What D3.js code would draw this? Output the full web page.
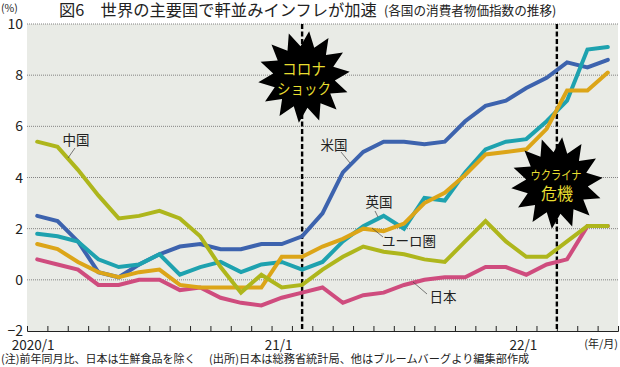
<!DOCTYPE html>
<html>
<head>
<meta charset="utf-8">
<script src="https://cdn.jsdelivr.net/npm/d3@7"></script>
<style>
  html, body { margin: 0; padding: 0; background: #fff; }
  text { font-family: "Noto Sans CJK JP", "Noto Sans", sans-serif; fill: #222; }
</style>
</head>
<body>
<div id="chart"></div>
<script>
// DATA
var months = 29;
var usa = [2.5,2.3,1.5,0.3,0.1,0.6,1.0,1.3,1.4,1.2,1.2,1.4,1.4,1.7,2.6,4.2,5.0,5.4,5.4,5.3,5.4,6.2,6.8,7.0,7.5,7.9,8.5,8.3,8.6];
var uk = [1.8,1.7,1.5,0.8,0.5,0.6,1.0,0.2,0.5,0.7,0.3,0.6,0.7,0.4,0.7,1.5,2.1,2.5,2.0,3.2,3.1,4.2,5.1,5.4,5.5,6.2,7.0,9.0,9.1];
var euro = [1.4,1.2,0.7,0.3,0.1,0.3,0.4,-0.2,-0.3,-0.3,-0.3,-0.3,0.9,0.9,1.3,1.6,2.0,1.9,2.2,3.0,3.4,4.1,4.9,5.0,5.1,5.9,7.4,7.4,8.1];
var china = [5.4,5.2,4.3,3.3,2.4,2.5,2.7,2.4,1.7,0.5,-0.5,0.2,-0.3,-0.2,0.4,0.9,1.3,1.1,1.0,0.8,0.7,1.5,2.3,1.5,0.9,0.9,1.5,2.1,2.1];
var japan = [0.8,0.6,0.4,-0.2,-0.2,0,0,-0.4,-0.3,-0.7,-0.9,-1.0,-0.7,-0.5,-0.3,-0.9,-0.6,-0.5,-0.2,0,0.1,0.1,0.5,0.5,0.2,0.6,0.8,2.1,2.1];
var yTicks = [-2,0,2,4,6,8,10];
var xLabels = [[0,"2020/1"],[12,"21/1"],[24,"22/1"]];

var width = 620, height = 367;
var plot = { left: 27, right: 618, top: 24, bottom: 331 };

var svg = d3.select("#chart").append("svg")
  .attr("width", width)
  .attr("height", height)
  .style("display", "block");

// month i sits in the middle of band i
var x = d3.scaleLinear().domain([-0.5, months - 0.5]).range([plot.left, plot.right]);
var y = d3.scaleLinear().domain([-2, 10]).range([plot.bottom, plot.top]);

svg.append("rect")
  .attr("x", plot.left)
  .attr("y", plot.top)
  .attr("width", plot.right - plot.left)
  .attr("height", plot.bottom - plot.top)
  .attr("fill", "#e9ebe6");

// grid
svg.selectAll(".grid")
  .data(yTicks.filter(function(d) { return d > -2; }))
  .enter().append("line")
  .attr("class", "grid")
  .attr("x1", plot.left)
  .attr("x2", plot.right)
  .attr("y1", function(d) { return y(d); })
  .attr("y2", function(d) { return y(d); })
  .attr("stroke", "#777")
  .attr("stroke-width", 0.9)
  .attr("stroke-dasharray", "1,1");

// y labels
svg.selectAll(".ylab")
  .data(yTicks)
  .enter().append("text")
  .attr("class", "ylab")
  .attr("x", 23)
  .attr("y", function(d) { return y(d) + 5; })
  .attr("text-anchor", "end")
  .style("font-size", "14px")
  .text(function(d) { return d < 0 ? "\u2212" + Math.abs(d) : d; });

svg.append("text").attr("x", 1).attr("y", 12).style("font-size", "10.5px").text("(%)");

// x axis
var xAxis = d3.axisBottom(x)
  .tickValues(d3.range(-0.5, months, 1))
  .tickSize(-5)
  .tickFormat("");
var axisG = svg.append("g")
  .attr("transform", "translate(0," + plot.bottom + ")")
  .call(xAxis);
axisG.selectAll("path, line").attr("stroke", "#222").attr("stroke-width", 1);

svg.selectAll(".xlab")
  .data(xLabels)
  .enter().append("text")
  .attr("class", "xlab")
  .attr("x", function(d) { return x(d[0]) - (d[0] === 0 ? 4 : 3); })
  .attr("y", 350)
  .attr("text-anchor", "middle")
  .style("font-size", "13.5px")
  .text(function(d) { return d[1]; });
svg.append("text").attr("x", 618).attr("y", 348).attr("text-anchor", "end")
  .style("font-size", "11px").text("(年/月)");

// event lines
var eventMonths = [13, 25.5];
svg.selectAll(".event")
  .data(eventMonths)
  .enter().append("line")
  .attr("class", "event")
  .attr("x1", function(d) { return x(d); })
  .attr("x2", function(d) { return x(d); })
  .attr("y1", plot.top)
  .attr("y2", plot.bottom)
  .attr("stroke", "#000")
  .attr("stroke-width", 2.4)
  .attr("stroke-dasharray", "5,2.5");

// series
var line = d3.line()
  .x(function(d, i) { return x(i); })
  .y(function(d) { return y(d); });

var series = [
  { values: usa, color: "#3d63ae" },
  { values: uk, color: "#1ea2af" },
  { values: japan, color: "#cf4c7e" },
  { values: euro, color: "#dca518" },
  { values: china, color: "#aeb61c" }
];
svg.selectAll(".series")
  .data(series)
  .enter().append("path")
  .attr("class", "series")
  .attr("fill", "none")
  .attr("stroke", function(d) { return d.color; })
  .attr("stroke-width", 4)
  .attr("stroke-linecap", "round")
  .attr("stroke-linejoin", "miter")
  .attr("d", function(d) { return line(d.values); });

// burst shapes
function burst(cx, cy, spikes, rOut, rIn) {
  var pts = d3.range(spikes * 2).map(function(i) {
    return [(i + 0.5) * Math.PI / spikes, i % 2 ? rIn : rOut];
  });
  svg.append("path")
    .attr("transform", "translate(" + cx + "," + cy + ")")
    .attr("d", d3.lineRadial().curve(d3.curveLinearClosed)(pts))
    .attr("fill", "#000");
}
burst(304, 77, 14, 46, 31);
burst(557, 183, 14, 46, 31);

function burstText(cx, cy, str, size, len) {
  svg.append("text")
    .attr("x", cx).attr("y", cy)
    .attr("text-anchor", "middle")
    .attr("textLength", len)
    .attr("lengthAdjust", "spacingAndGlyphs")
    .style("font-size", size + "px")
    .style("fill", "#e8de30")
    .text(str);
}
burstText(304, 75, "コロナ", 15.5, 44);
burstText(304, 94, "ショック", 15, 54);
burstText(556, 180, "ウクライナ", 12.5, 51);
burstText(557, 200, "危機", 16.5, 32);

// series labels + leader lines
var labels = [
  { text: "中国", tx: 76, ty: 145, from: [75, 148], to: [68, 158] },
  { text: "米国", tx: 334, ty: 150, from: [341, 152], to: [350, 163] },
  { text: "英国", tx: 379, ty: 207, from: [375, 211], to: [378, 217] },
  { text: "ユーロ圏", tx: 409, ty: 246, from: [383, 237], to: [372, 228] },
  { text: "日本", tx: 443, ty: 302, from: [427, 294], to: [413, 282] }
];
labels.forEach(function(d) {
  svg.append("text").attr("x", d.tx).attr("y", d.ty).attr("text-anchor", "middle")
    .style("font-size", "13.5px").text(d.text);
  svg.append("line").attr("x1", d.from[0]).attr("y1", d.from[1]).attr("x2", d.to[0]).attr("y2", d.to[1])
    .attr("stroke", "#444").attr("stroke-width", 0.7);
});

// title
svg.append("text").attr("x", 59).attr("y", 16).style("font-size", "16.3px").text("図6　世界の主要国で軒並みインフレが加速");
svg.append("text").attr("x", 384).attr("y", 15).style("font-size", "12.6px").text("(各国の消費者物価指数の推移)");

// note
svg.append("text").attr("x", 1).attr("y", 363).style("font-size", "11px").text("(注)前年同月比、日本は生鮮食品を除く");
svg.append("text").attr("x", 209).attr("y", 363).style("font-size", "11.2px").text("(出所)日本は総務省統計局、他はブルームバーグより編集部作成");
</script>
</body>
</html>
